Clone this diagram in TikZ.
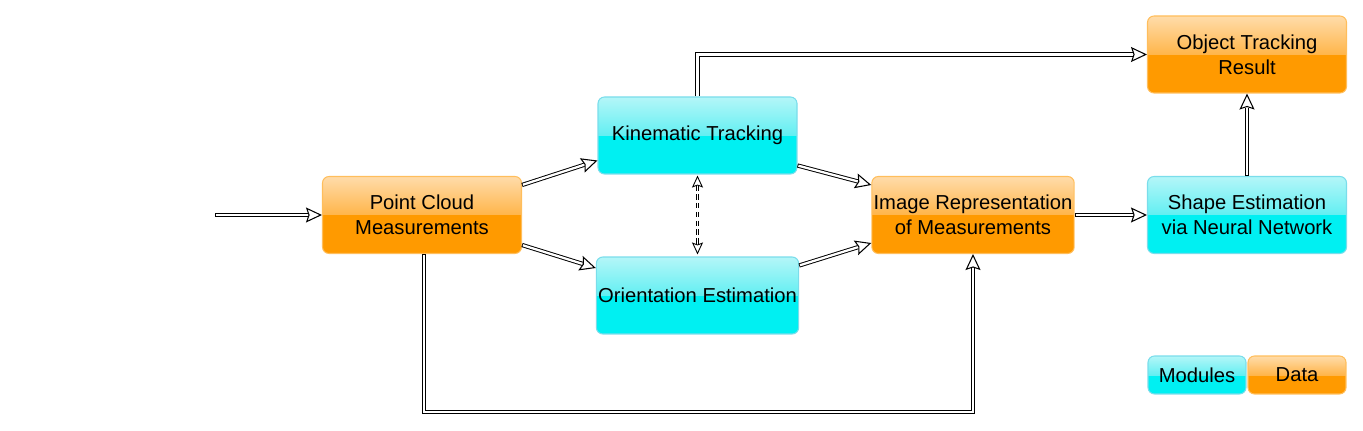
\documentclass[tikz,border=0pt]{standalone}
\usepackage{fontspec}
\setmainfont{Liberation Sans}
\usepackage{xcolor}
\usepackage{tikz}
\usetikzlibrary{calc}
\usetikzlibrary{arrows.meta}

\definecolor{orgDark}{HTML}{FF9A00}
\definecolor{orgTop}{HTML}{FFDCAA}
\definecolor{orgMid}{HTML}{FFB54A}
\definecolor{orgLine}{HTML}{FFBE5C}
\definecolor{cyDark}{HTML}{00F0F2}
\definecolor{cyTop}{HTML}{B4F6F8}
\definecolor{cyMid}{HTML}{62EFF2}
\definecolor{cyLine}{HTML}{7ADDEB}

\tikzset{
  glossy/.style n args={4}{draw=#4, line width=0.6pt, rounded corners=0.13cm,
    path picture={
      \fill[#1, sharp corners] (path picture bounding box.south west) rectangle (path picture bounding box.east);
      \shade[top color=#2, bottom color=#3, sharp corners] (path picture bounding box.west) rectangle (path picture bounding box.north east);
    }},
  module/.style={glossy={cyDark}{cyTop}{cyMid}{cyLine}, minimum width=3.98cm, minimum height=1.54cm,
    align=center, inner sep=1pt, font=\fontsize{11.5}{14}\selectfont},
  datum/.style={glossy={orgDark}{orgTop}{orgMid}{orgLine}, minimum width=3.98cm, minimum height=1.54cm,
    align=center, inner sep=1pt, font=\fontsize{11.5}{14}\selectfont},
  % double shaft, then the hollow head alone
  flow/.style={draw=black, line width=2.4pt, shorten >=0.28cm,
    postaction={draw=white, line width=1.3pt, shorten >=0.28cm, shorten <=0.5pt},
    postaction={draw=black, line width=0.6pt, shorten >=0pt, shorten <=0pt,
      dash pattern=on 0pt off 400cm, -{Stealth[open, inset=0.05cm, length=0.32cm, width=0.3cm]}}},
  link/.style={draw=black, line width=1.9pt, dash pattern=on 3pt off 2pt, shorten >=0.2cm, shorten <=0.2cm,
    postaction={draw=white, line width=0.9pt, solid},
    postaction={draw=black, line width=0.5pt, shorten >=0pt, shorten <=0pt,
      dash pattern=on 0pt off 400cm,
      {Stealth[open, inset=0.04cm, length=0.24cm, width=0.22cm]}-{Stealth[open, inset=0.04cm, length=0.24cm, width=0.22cm]}}}
}

\begin{document}
\begin{tikzpicture}
\useasboundingbox (0,0) rectangle (27.26,8.6);

% Data
\node[datum] (pc) at (8.44,4.30) {Point Cloud\\Measurements};
\node[datum] (img) at (19.46,4.30) {Image Representation\\of Measurements};
\node[datum] (res) at (24.94,7.51) {Object Tracking\\Result};

% Modules
\node[module] (kin) at (13.95,5.89) {Kinematic Tracking};
\node[module] (ori) at (13.95,2.69) {Orientation Estimation};
\node[module] (shp) at (24.94,4.30) {Shape Estimation\\via Neural Network};

% Legend
\node[module, minimum width=1.96cm, minimum height=0.76cm] (lmod) at (23.94,1.10) {Modules};
\node[datum, minimum width=1.96cm, minimum height=0.76cm] (ldat) at (25.94,1.10) {Data};

% Input
\coordinate (in) at (4.30,4.30);
\draw[flow] (in) -- (pc.west);

% Flow
\draw[flow] ([yshift=0.6cm]pc.east) -- ([yshift=-0.5cm]kin.west);
\draw[flow] ([yshift=-0.6cm]pc.east) -- ([yshift=0.55cm]ori.west);
\draw[flow] ([yshift=-0.6cm]kin.east) -- ([yshift=0.6cm]img.west);
\draw[flow] ([yshift=0.6cm]ori.east) -- ([yshift=-0.56cm]img.west);
\draw[flow] (img.east) -- (shp.west);
\draw[flow] (shp.north) -- (res.south);
\draw[flow] (kin.north) -- (kin.north |- res.west) -- (res.west);
\draw[flow] ([xshift=0.04cm]pc.south) -- ++(0,-3.16) -| (img.south);

% Coupling
\draw[link] ([yshift=-0.02cm]kin.south) -- ([yshift=0.04cm]ori.north);
\end{tikzpicture}
\end{document}
